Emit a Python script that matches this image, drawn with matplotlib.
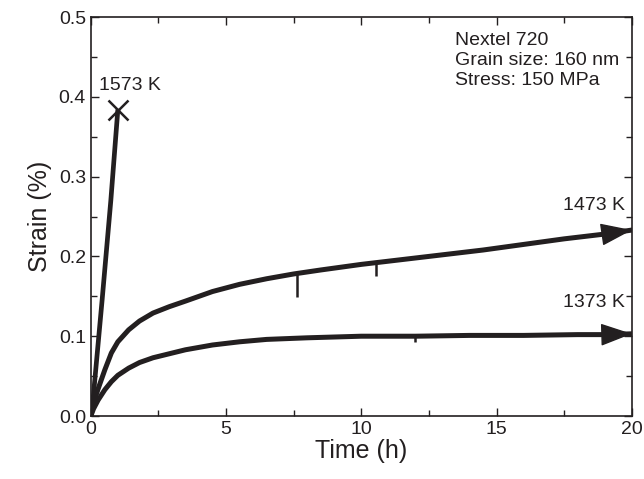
import matplotlib
matplotlib.use("Agg")
import matplotlib.pyplot as plt
from matplotlib.ticker import MultipleLocator, FormatStrFormatter

plt.rcParams['font.family'] = ['Liberation Sans', 'DejaVu Sans']

# 1573 K
t_1573 = [0, 0.08, 0.42, 0.74, 1.0]
s_1573 = [0, 0.02, 0.146, 0.27, 0.384]

# 1473 K
t_1473 = [0, 0.1, 0.27, 0.52, 0.76, 1.0, 1.4, 1.8, 2.3, 2.9, 3.5, 4.5, 5.5, 6.5, 7.5,
          8.5, 10, 11.5, 13, 14.5, 16, 17.5, 19, 20]
s_1473 = [0, 0.016, 0.034, 0.058, 0.079, 0.093, 0.108, 0.119, 0.129, 0.137, 0.144, 0.156,
          0.165, 0.172, 0.178, 0.183, 0.19, 0.196, 0.202, 0.208, 0.215, 0.222, 0.228, 0.233]

# 1373 K
t_1373 = [0, 0.1, 0.27, 0.52, 0.76, 1.0, 1.4, 1.8, 2.3, 2.9, 3.5, 4.5, 5.5, 6.5, 8,
          10, 12, 14, 16, 18, 19, 20]
s_1373 = [0, 0.009, 0.02, 0.033, 0.043, 0.051, 0.06, 0.067, 0.073, 0.078, 0.083, 0.089,
          0.093, 0.096, 0.098, 0.1, 0.1, 0.101, 0.101, 0.102, 0.102, 0.103]

# measurement dips: time, top, bottom
dip_t = [7.63, 10.54, 12.0]
dip_top = [0.178, 0.19, 0.1]
dip_bot = [0.149, 0.176, 0.093]

col = '#231f20'

fig = plt.figure(figsize=(6.44, 4.79), dpi=100)
ax = fig.add_axes([0.141, 0.1315, 0.84, 0.833])

ax.plot(t_1573, s_1573, color=col, lw=3.4, solid_capstyle='butt')
ax.plot([t_1573[-1]], [s_1573[-1]], marker='x', color=col, ms=14, mew=1.8)
ax.plot(t_1473, s_1473, color=col, lw=3.6, solid_joinstyle='round')
ax.plot(t_1373, s_1373, color=col, lw=3.6, solid_joinstyle='round')
ax.vlines(dip_t, dip_bot, dip_top, color=col, lw=1.8)

for tt, ss in ((t_1473, s_1473), (t_1373, s_1373)):
    ax.annotate('', xy=(tt[-1], ss[-1]), xytext=(tt[-2], ss[-2]),
                arrowprops=dict(arrowstyle='-|>,head_length=1.0,head_width=0.36',
                                mutation_scale=20, color=col, lw=1, shrinkA=0, shrinkB=0))

ax.text(0.3, 0.403, '1573 K', fontsize=14, ha='left', va='bottom', color=col)
ax.text(19.75, 0.253, '1473 K', fontsize=14, ha='right', va='bottom', color=col)
ax.text(19.75, 0.131, '1373 K', fontsize=14, ha='right', va='bottom', color=col)
ax.text(13.45, 0.481, 'Nextel 720\nGrain size: 160 nm\nStress: 150 MPa', fontsize=14,
        ha='left', va='top', color=col, linespacing=1.22)

ax.set_xlim(0, 20)
ax.set_ylim(0, 0.5)
ax.xaxis.set_major_locator(MultipleLocator(5))
ax.xaxis.set_minor_locator(MultipleLocator(2.5))
ax.yaxis.set_major_locator(MultipleLocator(0.1))
ax.yaxis.set_minor_locator(MultipleLocator(0.05))
ax.yaxis.set_major_formatter(FormatStrFormatter('%.1f'))
ax.tick_params(which='both', direction='in', top=True, right=True, labelsize=14, colors=col)
ax.tick_params(which='major', length=6, width=1)
ax.tick_params(which='minor', length=4, width=1)
for sp in ax.spines.values():
    sp.set_linewidth(1.2)
    sp.set_color(col)

ax.set_xlabel('Time (h)', fontsize=18, color=col, labelpad=1)
ax.set_ylabel('Strain (%)', fontsize=18, color=col, labelpad=5)

fig.savefig('out.png', dpi=100)
